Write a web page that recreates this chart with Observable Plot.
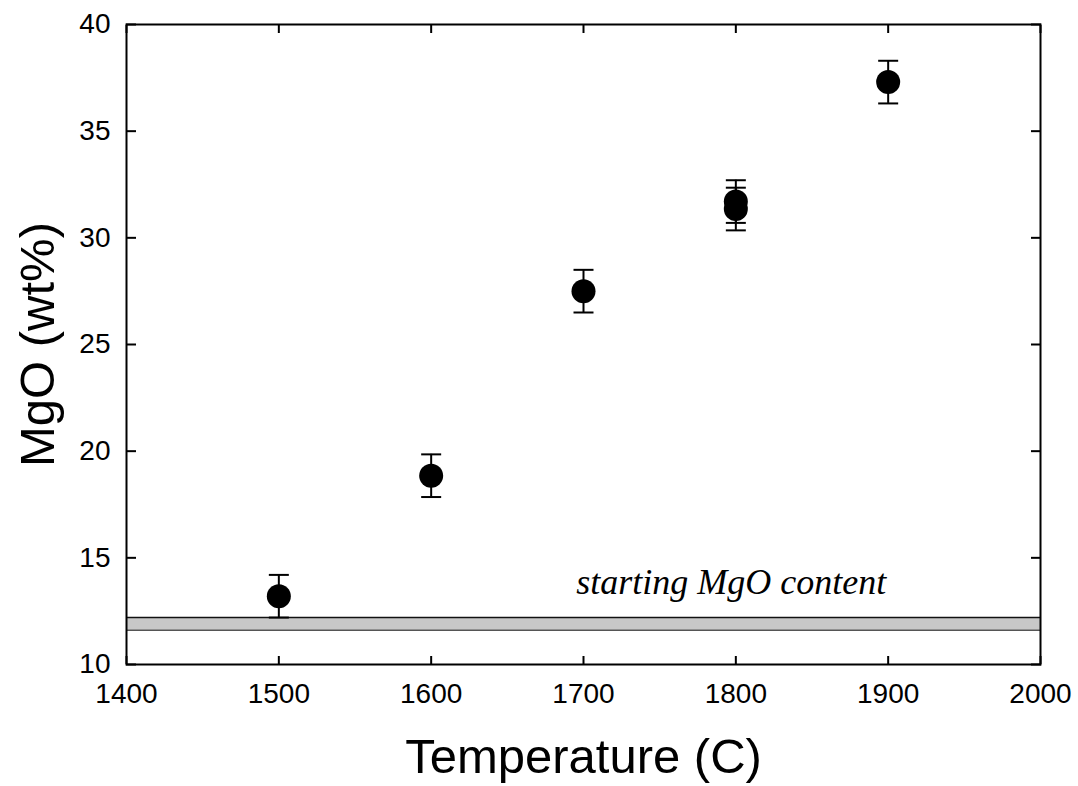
<!DOCTYPE html>
<html>
<head>
<meta charset="utf-8">
<script src="https://cdn.jsdelivr.net/npm/d3@7"></script>
<script src="https://cdn.jsdelivr.net/npm/@observablehq/plot@0.6"></script>
<style>
  html, body { margin: 0; padding: 0; background: #fff; }
</style>
</head>
<body>
<div id="chart"></div>
<script>
// Data
const temperature = [1500, 1600, 1700, 1800, 1800, 1900];
const mgo = [13.2, 18.85, 27.5, 31.7, 31.35, 37.3];
const mgoError = [1, 1, 1, 1, 1, 1];

const xDomain = [1400, 2000];
const yDomain = [10, 40];
const xTicks = [1400, 1500, 1600, 1700, 1800, 1900, 2000];
const yTicks = [10, 15, 20, 25, 30, 35, 40];

// starting MgO content band
const bandLow = [11.6];
const bandHigh = [12.2];
const annotation = ["starting MgO content"];
const annotationX = [1797];
const annotationY = [13.85];

const xTitle = "Temperature (C)";
const yTitle = "MgO (wt%)";

const points = temperature.map((t, i) => ({t, m: mgo[i], e: mgoError[i]}));
const band = [{x1: xDomain[0], x2: xDomain[1], y1: bandLow[0], y2: bandHigh[0]}];

const capSymbol = {
  draw(context, size) {
    const w = Math.sqrt(size / Math.PI);
    context.moveTo(-w, 0);
    context.lineTo(w, 0);
  }
};

const chart = Plot.plot({
  width: 1078,
  height: 786,
  marginLeft: 126,
  marginRight: 38,
  marginTop: 24,
  marginBottom: 122,
  style: {fontFamily: "'Liberation Sans', Arial, sans-serif", color: "#000", background: "#fff"},
  x: {domain: xDomain, label: null},
  y: {domain: yDomain, label: null},
  marks: [
    Plot.rect(band, {x1: "x1", x2: "x2", y1: "y1", y2: "y2", fill: "#c8c8c8"}),
    Plot.ruleY(bandHigh, {stroke: "#111", strokeWidth: 1.5}),
    Plot.ruleY(bandLow, {stroke: "#555", strokeWidth: 1.5}),
    Plot.ruleX(points, {x: "t", y1: d => d.m - d.e, y2: d => d.m + d.e, stroke: "#000", strokeWidth: 2}),
    Plot.dot(points, {x: "t", y: d => d.m + d.e, symbol: capSymbol, r: 10, stroke: "#000", strokeWidth: 2, fill: "none"}),
    Plot.dot(points, {x: "t", y: d => d.m - d.e, symbol: capSymbol, r: 10, stroke: "#000", strokeWidth: 2, fill: "none"}),
    Plot.dot(points, {x: "t", y: "m", r: 12, fill: "#000", stroke: "none"}),
    Plot.text(annotation, {x: () => annotationX[0], y: () => annotationY[0], text: d => d,
      fontFamily: "'Liberation Serif', 'Times New Roman', serif", fontStyle: "italic", fontSize: 36,
      textAnchor: "middle", fill: "#000"}),
    // tick labels
    Plot.axisY({ticks: yTicks, tickSize: 0, tickPadding: 16, fontSize: 28, label: null, anchor: "left", tickFormat: d => String(d)}),
    Plot.axisX({ticks: xTicks, tickSize: 0, tickPadding: 19, fontSize: 28, label: null, anchor: "bottom", tickFormat: d => String(d)}),
    // inward ticks on all sides
    Plot.axisY({ticks: yTicks, tickSize: -10, text: null, label: null, anchor: "left", strokeWidth: 2}),
    Plot.axisY({ticks: yTicks, tickSize: -10, text: null, label: null, anchor: "right", strokeWidth: 2}),
    Plot.axisX({ticks: xTicks, tickSize: -8, text: null, label: null, anchor: "bottom", strokeWidth: 2}),
    Plot.axisX({ticks: xTicks, tickSize: -8, text: null, label: null, anchor: "top", strokeWidth: 2}),
    Plot.frame({stroke: "#000", strokeWidth: 2}),
    // axis titles
    Plot.text([xTitle], {frameAnchor: "bottom", dy: 93, text: d => d, fontSize: 49, fill: "#000",
      textAnchor: "middle", lineAnchor: "middle"}),
    Plot.text([yTitle], {frameAnchor: "left", dx: -88, rotate: -90, text: d => d, fontSize: 49, fill: "#000",
      textAnchor: "middle", lineAnchor: "middle"})
  ]
});
document.getElementById("chart").appendChild(chart);
</script>
</body>
</html>
